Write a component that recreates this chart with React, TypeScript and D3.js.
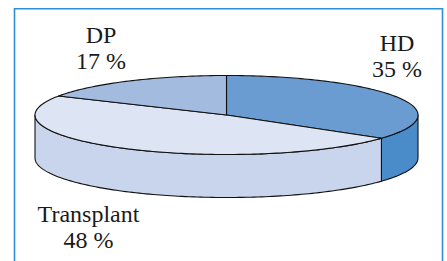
import React from "react";
import * as d3 from "d3";

const categories = ["HD", "Transplant", "DP"];
const shares = [35, 48, 17];
const percentLabels = ["35 %", "48 %", "17 %"];
const topColors = ["#6a9bd1", "#dde4f3", "#a3bbdf"];
const sideColors = ["#4a8bc9", "#c9d5ec", "#8fa9d4"];

// label anchor (centre x, first baseline y) for each slice
const labelPos: [number, number][] = [
  [397, 51],
  [88.5, 222],
  [101, 43],
];

function App() {
  const width = 447;
  const height = 261;
  const cx = 226.5;
  const cy = 115;
  const rx = 191.5;
  const ry = 39.5;
  const depth = 43;

  const arcs = d3
    .pie<number>()
    .sort(null)
    .value((d) => d)(shares);

  // angle measured clockwise from 12 o'clock, like d3.pie
  const pt = (a: number, dy = 0): [number, number] => [
    cx + rx * Math.sin(a),
    cy - ry * Math.cos(a) + dy,
  ];
  const line = d3.line();

  const topPath = (a0: number, a1: number) => {
    const n = Math.max(2, Math.ceil((a1 - a0) / 0.02));
    const pts = d3.range(n + 1).map((i) => pt(a0 + ((a1 - a0) * i) / n));
    return line([[cx, cy], ...pts]) + "Z";
  };

  // outer wall, only the part that faces the viewer
  const sidePath = (a0: number, a1: number) => {
    const s = Math.max(a0, Math.PI / 2);
    const e = Math.min(a1, (3 * Math.PI) / 2);
    if (e <= s) return null;
    const n = Math.max(2, Math.ceil((e - s) / 0.02));
    const upper = d3.range(n + 1).map((i) => pt(s + ((e - s) * i) / n));
    const lower = d3
      .range(n + 1)
      .map((i) => pt(e - ((e - s) * i) / n, depth));
    return line([...upper, ...lower]) + "Z";
  };

  return (
    <svg width={width} height={height} style={{ display: "block", position: "absolute", left: 0, top: 0 }}>
      <rect x={0} y={0} width={width} height={height} fill="#fff" />
      <path
        d={`M14.5,${height} V8.75 H442.5 V${height}`}
        fill="none"
        stroke="#2f8fd6"
        strokeWidth={1.6}
      />
      <g stroke="#111" strokeWidth={1.1} strokeLinejoin="round">
        {arcs.map((a, i) => {
          const d = sidePath(a.startAngle, a.endAngle);
          return d ? <path key={"s" + i} d={d} fill={sideColors[i]} /> : null;
        })}
        {arcs.map((a, i) => (
          <path key={"t" + i} d={topPath(a.startAngle, a.endAngle)} fill={topColors[i]} />
        ))}
      </g>
      <g fill="#1a1a1a" textAnchor="middle">
        {categories.map((c, i) => (
          <text
            key={c}
            x={labelPos[i][0]}
            y={labelPos[i][1]}
            style={{ fontFamily: '"Liberation Serif"', fontSize: "24px" }}
          >
            <tspan x={labelPos[i][0]}>{c}</tspan>
            <tspan x={labelPos[i][0]} dy={25.5}>
              {percentLabels[i]}
            </tspan>
          </text>
        ))}
      </g>
    </svg>
  );
}

export default App;
